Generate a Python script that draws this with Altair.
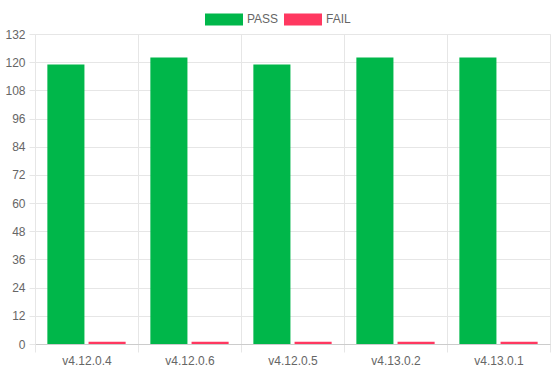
import altair as alt
import pandas as pd

versions = ["v4.12.0.4", "v4.12.0.6", "v4.12.0.5", "v4.13.0.2", "v4.13.0.1"]
pass_counts = [119, 122, 119, 122, 122]
fail_counts = [1, 1, 1, 1, 1]
series = ["PASS", "FAIL"]
colors = ["#00b74a", "#ff3860"]
y_ticks = list(range(0, 133, 12))

rows = []
for v, p, f in zip(versions, pass_counts, fail_counts):
    rows.append({"version": v, "status": "PASS", "count": p})
    rows.append({"version": v, "status": "FAIL", "count": f})
df = pd.DataFrame(rows)

FONT = "Liberation Sans"
GRID = "#e6e6e6"

chart = alt.Chart(df).mark_bar().encode(
    x=alt.X("version:N", sort=versions, title=None,
            scale=alt.Scale(paddingInner=0, paddingOuter=0),
            axis=alt.Axis(labelAngle=0, tickBand="extent", grid=True,
                          gridColor=GRID, tickColor=GRID, tickSize=8,
                          domainColor="#cccccc", labelColor="#666666",
                          labelFontSize=12, labelFont=FONT, labelPadding=3)),
    xOffset=alt.XOffset("status:N", sort=series,
                        scale=alt.Scale(paddingInner=0.1, paddingOuter=0.3)),
    y=alt.Y("count:Q", title=None,
            scale=alt.Scale(domain=[0, 132], nice=False),
            axis=alt.Axis(values=y_ticks, grid=True, gridColor=GRID,
                          tickColor=GRID, tickSize=6, domainColor=GRID,
                          labelColor="#666666", labelFontSize=12,
                          labelFont=FONT, labelPadding=4)),
    color=alt.Color("status:N", sort=series,
                    scale=alt.Scale(domain=series, range=colors),
                    legend=alt.Legend(title=None, orient="none",
                                      direction="horizontal",
                                      legendX=170, legendY=-34,
                                      symbolType="M-1,-0.316H1V0.316H-1Z",
                                      symbolSize=1444, symbolOpacity=1,
                                      symbolStrokeWidth=0,
                                      labelFont=FONT, labelFontSize=12,
                                      labelColor="#666666", labelOffset=4,
                                      columnPadding=5)),
).properties(
    width=515, height=310,
    padding={"left": 35, "top": 34, "right": 6, "bottom": 29},
    autosize=alt.AutoSizeParams(type="none"),
).configure_view(stroke=GRID)

chart.save("out.html", embed_options={"renderer": "svg", "actions": False})
